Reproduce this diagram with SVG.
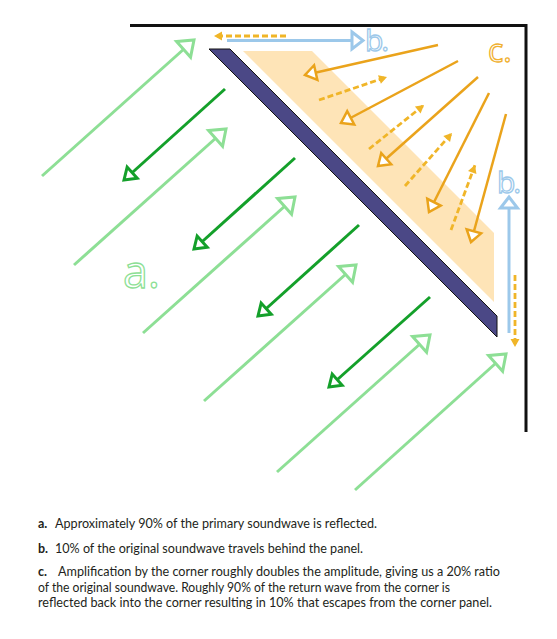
<svg xmlns="http://www.w3.org/2000/svg" width="557" height="639" viewBox="0 0 557 639">
<style>
.lg{stroke:#8ddf95;stroke-width:3;fill:none;marker-end:url(#mLG)}
.dg{stroke:#14a02a;stroke-width:3;fill:none;marker-end:url(#mDG)}
.or{stroke:#eaa31b;stroke-width:2.5;fill:none;marker-end:url(#mOR)}
.od{stroke:#f0b528;stroke-width:2.8;fill:none;stroke-dasharray:6 3;marker-end:url(#mOD)}
.lb{stroke:#9cc8ea;stroke-width:3;fill:none;marker-end:url(#mLB)}
.lbl{font-family:"Open Sans","Noto Sans",sans-serif;fill:#fff;stroke-width:1.3}
.bl{font-size:30px;letter-spacing:-2px}
.cap{font-family:Lato,"Open Sans",sans-serif;font-size:12.5px;fill:#231f20}
.cap .k{font-weight:bold}
</style>
<defs>
<marker id="mLG" markerUnits="userSpaceOnUse" viewBox="-4 -14 22 28" markerWidth="22" markerHeight="28" refX="14" refY="0" orient="auto">
<path d="M0,-10.5 L14,0 L0,10.5 Z" fill="#fff" stroke="#8ddf95" stroke-width="3"/>
</marker>
<marker id="mDG" markerUnits="userSpaceOnUse" viewBox="-4 -11 18 22" markerWidth="18" markerHeight="22" refX="11" refY="0" orient="auto">
<path d="M0,-7.5 L11,0 L0,7.5 Z" fill="#fff" stroke="#14a02a" stroke-width="3"/>
</marker>
<marker id="mOR" markerUnits="userSpaceOnUse" viewBox="-4 -11 18 22" markerWidth="18" markerHeight="22" refX="11" refY="0" orient="auto">
<path d="M0,-7.5 L11,0 L0,7.5 Z" fill="#fff" stroke="#eaa31b" stroke-width="2.5"/>
</marker>
<marker id="mOD" markerUnits="userSpaceOnUse" viewBox="-2 -6 12 12" markerWidth="12" markerHeight="12" refX="8" refY="0" orient="auto">
<path d="M0,-4.5 L8,0 L0,4.5 Z" fill="#f0b528"/>
</marker>
<marker id="mLB" markerUnits="userSpaceOnUse" viewBox="-4 -12 18 24" markerWidth="18" markerHeight="24" refX="11" refY="0" orient="auto">
<path d="M0,-8.5 L11,0 L0,8.5 Z" fill="#fff" stroke="#9cc8ea" stroke-width="3"/>
</marker>
</defs>
<rect width="557" height="639" fill="#fff"/>
<g id="wall">
<path d="M130,25.5 L526,25.5 L526,432" fill="none" stroke="#111" stroke-width="3"/>
</g>
<g id="shade">
<polygon points="243,51 312,51 494,233 494,302" fill="#fee4b7"/>
</g>
<g id="panel">
<polygon points="209,49 230,49 497,316 497,337" fill="#4b4886" stroke="#111" stroke-width="1"/>
</g>
<g id="connectors">
<line class="lg" x1="42" y1="176" x2="194" y2="40"/>
<line class="lg" x1="74" y1="265" x2="226" y2="129"/>
<line class="lg" x1="143" y1="333" x2="295" y2="197"/>
<line class="lg" x1="204" y1="401" x2="356" y2="265"/>
<line class="lg" x1="277" y1="472" x2="430" y2="335"/>
<line class="lg" x1="355" y1="490" x2="506" y2="354"/>
<line class="dg" x1="225" y1="89" x2="124" y2="180"/>
<line class="dg" x1="295" y1="158" x2="194" y2="249"/>
<line class="dg" x1="359" y1="225" x2="258" y2="316"/>
<line class="dg" x1="430" y1="297" x2="329" y2="387"/>
<line class="or" x1="438" y1="45" x2="305" y2="75"/>
<line class="or" x1="458" y1="61" x2="341" y2="123"/>
<line class="or" x1="478" y1="77" x2="378" y2="166"/>
<line class="or" x1="489" y1="93" x2="429" y2="212"/>
<line class="or" x1="506" y1="114" x2="471" y2="242"/>
<line class="od" x1="319" y1="100" x2="387" y2="77"/>
<line class="od" x1="369" y1="149" x2="424" y2="105"/>
<line class="od" x1="405" y1="186" x2="452" y2="133"/>
<line class="od" x1="451" y1="230" x2="475" y2="165"/>
<line class="od" x1="286" y1="36" x2="214" y2="36"/>
<line class="od" x1="515" y1="275" x2="515" y2="347"/>
<line class="lb" x1="227" y1="40.5" x2="363" y2="40.5"/>
<line class="lb" x1="509" y1="333" x2="509" y2="197"/>
</g>
<g id="label-a"><text class="lbl" x="123" y="288" font-size="45" stroke="#8ddf95">a.</text></g>
<g id="label-b-top"><text class="lbl bl" x="365" y="51" stroke="#9cc8ea">b.</text></g>
<g id="label-c"><text class="lbl" x="488" y="62" font-size="32" stroke="#f0b030">c.</text></g>
<g id="label-b-right"><text class="lbl bl" x="497" y="193" stroke="#9cc8ea">b.</text></g>
<g id="caption">
<text class="cap" y="528"><tspan class="k" x="38">a.</tspan><tspan x="55" textLength="322" lengthAdjust="spacingAndGlyphs">Approximately 90% of the primary soundwave is reflected.</tspan></text>
<text class="cap" y="553"><tspan class="k" x="38">b.</tspan><tspan x="55" textLength="308" lengthAdjust="spacingAndGlyphs">10% of the original soundwave travels behind the panel.</tspan></text>
<text class="cap" y="576"><tspan class="k" x="38">c.</tspan><tspan x="58" textLength="442" lengthAdjust="spacingAndGlyphs">Amplification by the corner roughly doubles the amplitude, giving us a 20% ratio</tspan></text>
<text class="cap" x="38" y="592" textLength="412" lengthAdjust="spacingAndGlyphs">of the original soundwave.  Roughly 90% of the return wave from the corner is</text>
<text class="cap" x="38" y="607" textLength="454" lengthAdjust="spacingAndGlyphs">reflected back into the corner resulting in 10% that escapes from the corner panel.</text>
</g>
</svg>
